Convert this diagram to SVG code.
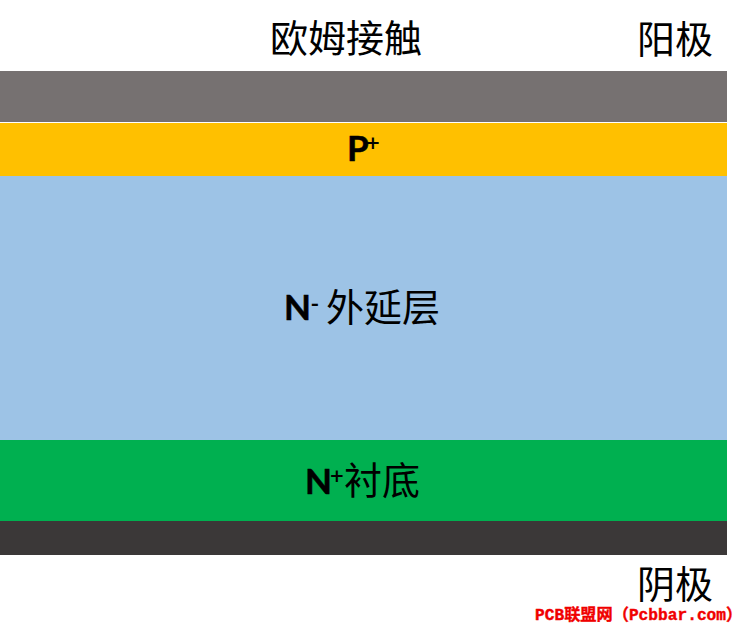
<svg xmlns="http://www.w3.org/2000/svg" width="737" height="628" viewBox="0 0 737 628">
<style>
.c{font-family:"Noto Sans CJK SC","Noto Sans CJK JP",sans-serif;font-size:38px;font-weight:400;fill:#000}
.b{font-family:Lato,"Open Sans",sans-serif;font-size:35px;font-weight:700;fill:#000;stroke:#000;stroke-width:.5}
.s{font-family:"Open Sans",sans-serif;font-size:24px;font-weight:600;fill:#000}
.w{font-family:"Liberation Mono","Noto Sans CJK SC",monospace;font-size:16.2px;font-weight:700;fill:#f00000;stroke:#f00000;stroke-width:.4}
</style>
<rect width="737" height="628" fill="#fff"/>
<g id="anode-metal"><rect x="0" y="71" width="727" height="51" fill="#767171"/></g>
<g id="p-plus"><rect x="0" y="123" width="727" height="53" fill="#ffc000"/><text class="b" x="347" y="161">P</text><text class="s" x="366" y="152">+</text></g>
<g id="n-epi"><rect x="0" y="176" width="727" height="264" fill="#9dc3e6"/><text class="b" x="284" y="320">N</text><text class="s" x="311" y="311">-</text><text class="c" x="326" y="321">外延层</text></g>
<g id="n-sub"><rect x="0" y="440" width="727" height="81" fill="#00b050"/><text class="b" x="305" y="494">N</text><text class="s" x="330" y="485">+</text><text class="c" x="344" y="494">衬底</text></g>
<g id="cathode-metal"><rect x="0" y="521" width="727" height="34" fill="#3b3838"/></g>
<g id="ohmic"><text class="c" x="270" y="52">欧姆接触</text></g>
<g id="anode"><text class="c" x="637" y="53">阳极</text></g>
<g id="cathode"><text class="c" x="637" y="598">阴极</text></g>
<g id="connectors"></g>
<text class="w" x="535" y="620">PCB联盟网（Pcbbar.com）</text>
</svg>
